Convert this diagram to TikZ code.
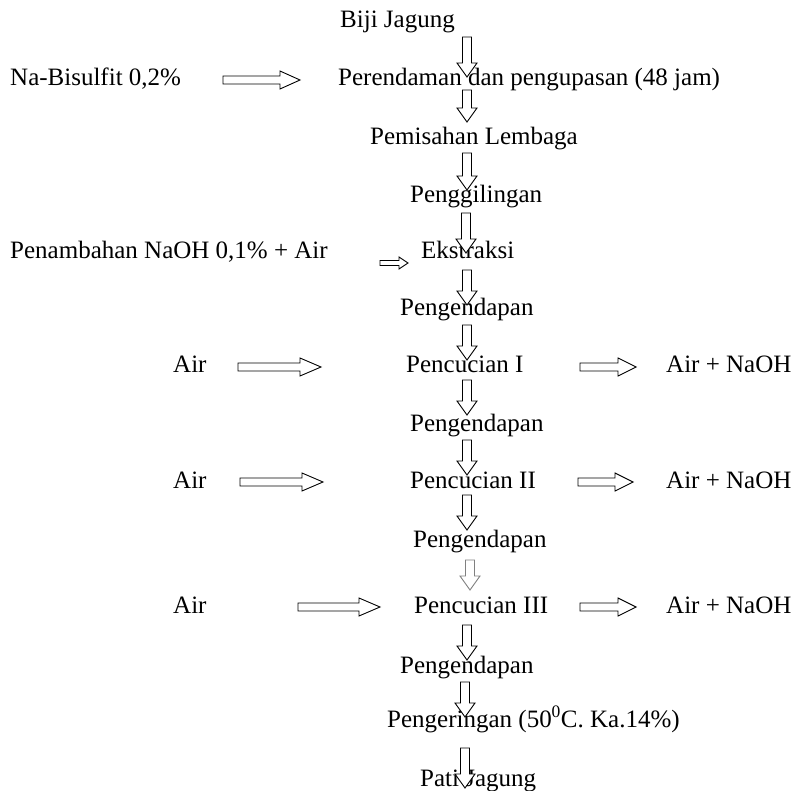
\documentclass[tikz,border=0pt]{standalone}
\usepackage{fontspec}
\setmainfont{Liberation Serif}
\usetikzlibrary{calc}

\tikzset{
  lbl/.style={inner sep=0pt, anchor=base west, font=\fontsize{25}{30}\selectfont},
  blk/.style={draw=black, line width=0.9pt, fill=white, line join=miter},
  blkgray/.style={blk, draw=black!50},
}

% hollow block arrow pointing down, from #2 to #3
\newcommand\downblock[3][blk]{%
  \draw[#1] let \p1=(#2), \p2=(#3) in
    (\x1-4.5pt,\y1) -- (\x1-4.5pt,\y2+14pt) -- (\x1-10pt,\y2+14pt) -- (\x1,\y2)
    -- (\x1+10pt,\y2+14pt) -- (\x1+4.5pt,\y2+14pt) -- (\x1+4.5pt,\y1) -- cycle;}

% hollow block arrow pointing right: #1 start, #2 end, #3 half shaft, #4 half head, #5 head length
\newcommand\rightblock[5]{%
  \draw[blk] let \p1=(#1), \p2=(#2) in
    (\x1,\y1-#3) -- (\x2-#5,\y1-#3) -- (\x2-#5,\y1-#4) -- (\x2,\y1)
    -- (\x2-#5,\y1+#4) -- (\x2-#5,\y1+#3) -- (\x1,\y1+#3) -- cycle;}

\begin{document}
\begin{tikzpicture}[x=1pt, y=-1pt]
  \useasboundingbox (0,0) rectangle (795,791);

  % main column
  \node[lbl] (biji)  at (340,28)  {Biji Jagung};
  \node[lbl] (rend)  at (338,86)  {Perendaman dan pengupasan (48 jam)};
  \node[lbl] (pisah) at (370,145) {Pemisahan Lembaga};
  \node[lbl] (giling) at (410,203) {Penggilingan};
  \node[lbl] (ekstr) at (421,259) {Ekstraksi};
  \node[lbl] (end1)  at (400,316) {Pengendapan};
  \node[lbl] (cuci1) at (406,373) {Pencucian I};
  \node[lbl] (end2)  at (410,431) {Pengendapan};
  \node[lbl] (cuci2) at (410,488) {Pencucian II};
  \node[lbl] (end3)  at (413,547) {Pengendapan};
  \node[lbl] (cuci3) at (414,613) {Pencucian III};
  \node[lbl] (end4)  at (400,673) {Pengendapan};
  \node[lbl] (kering) at (387,727) {Pengeringan (50\textsuperscript{0}C. Ka.14\%)};
  \node[lbl] (pati)  at (420,786) {Pati Jagung};

  % inputs and outputs
  \node[lbl] (nabis) at (10,86)   {Na-Bisulfit 0,2\%};
  \node[lbl] (naoh)  at (10,259)  {Penambahan NaOH 0,1\% + Air};
  \node[lbl] (air1)  at (173,373) {Air};
  \node[lbl] (air2)  at (173,488) {Air};
  \node[lbl] (air3)  at (173,613) {Air};
  \node[lbl] (out1)  at (666,373) {Air + NaOH};
  \node[lbl] (out2)  at (666,488) {Air + NaOH};
  \node[lbl] (out3)  at (666,613) {Air + NaOH};

  % arrow ends
  \coordinate (d1a) at (467,37);  \coordinate (d1b) at (467,77);
  \coordinate (d2a) at (467,90);  \coordinate (d2b) at (467,122);
  \coordinate (d3a) at (467,153); \coordinate (d3b) at (467,190);
  \coordinate (d4a) at (466,213); \coordinate (d4b) at (466,253);
  \coordinate (d5a) at (467,270); \coordinate (d5b) at (467,305);
  \coordinate (d6a) at (467,325); \coordinate (d6b) at (467,360);
  \coordinate (d7a) at (467,380); \coordinate (d7b) at (467,415);
  \coordinate (d8a) at (467,440); \coordinate (d8b) at (467,475);
  \coordinate (d9a) at (467,495); \coordinate (d9b) at (467,530);
  \coordinate (d10a) at (470,560); \coordinate (d10b) at (470,590);
  \coordinate (d11a) at (467,625); \coordinate (d11b) at (467,660);
  \coordinate (d12a) at (465,682); \coordinate (d12b) at (465,717);
  \coordinate (d13a) at (465,748); \coordinate (d13b) at (465,788);

  \coordinate (h1a) at (223,80);  \coordinate (h1b) at (300,80);
  \coordinate (h2a) at (380,263); \coordinate (h2b) at (408,263);
  \coordinate (l1a) at (238,367); \coordinate (l1b) at (321,367);
  \coordinate (l2a) at (240,482); \coordinate (l2b) at (323,482);
  \coordinate (l3a) at (298,607); \coordinate (l3b) at (380,607);
  \coordinate (r1a) at (580,367); \coordinate (r1b) at (636,367);
  \coordinate (r2a) at (578,482); \coordinate (r2b) at (633,482);
  \coordinate (r3a) at (580,607); \coordinate (r3b) at (636,607);

  % process arrows
  \downblock{d1a}{d1b}
  \downblock{d2a}{d2b}
  \downblock{d3a}{d3b}
  \downblock{d4a}{d4b}
  \downblock{d5a}{d5b}
  \downblock{d6a}{d6b}
  \downblock{d7a}{d7b}
  \downblock{d8a}{d8b}
  \downblock{d9a}{d9b}
  \downblock[blkgray]{d10a}{d10b}
  \downblock{d11a}{d11b}
  \downblock{d12a}{d12b}
  \downblock{d13a}{d13b}

  % side arrows
  \rightblock{h1a}{h1b}{4pt}{9pt}{20pt}
  \rightblock{h2a}{h2b}{2.5pt}{6pt}{9pt}
  \rightblock{l1a}{l1b}{4pt}{9pt}{21pt}
  \rightblock{l2a}{l2b}{4pt}{9pt}{21pt}
  \rightblock{l3a}{l3b}{4pt}{9pt}{21pt}
  \rightblock{r1a}{r1b}{4pt}{9pt}{18pt}
  \rightblock{r2a}{r2b}{4pt}{9pt}{18pt}
  \rightblock{r3a}{r3b}{4pt}{9pt}{18pt}
\end{tikzpicture}
\end{document}
